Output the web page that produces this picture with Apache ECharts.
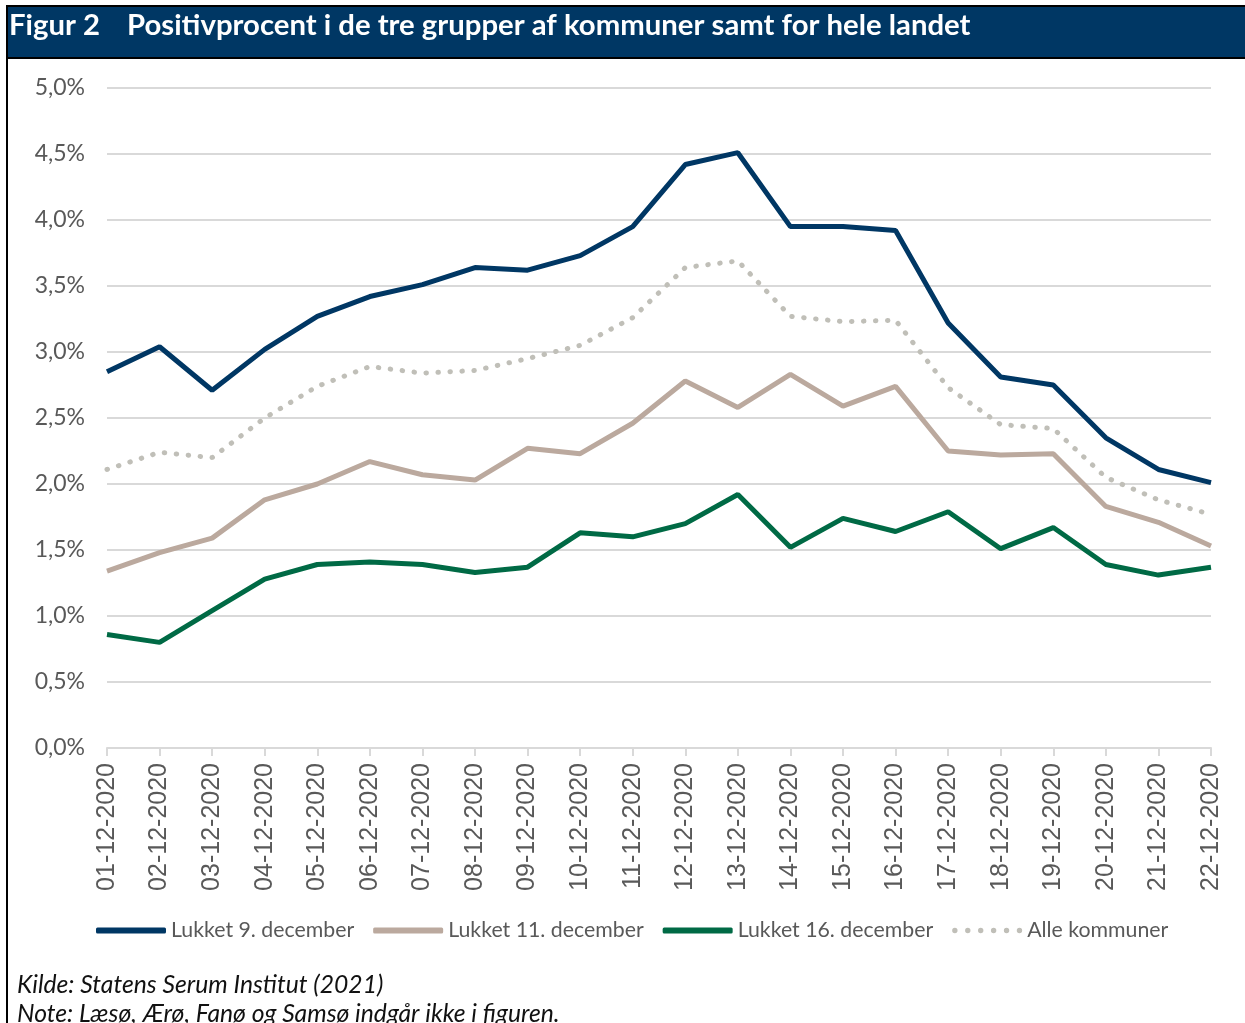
<!DOCTYPE html>
<html>
<head>
<meta charset="utf-8">
<script src="https://cdn.jsdelivr.net/npm/echarts@6/dist/echarts.min.js"></script>
<style>
  html, body { margin: 0; padding: 0; background: #fff; }
  #chart { width: 1245px; height: 1023px; }
</style>
</head>
<body>
<div id="chart"></div>
<script>
// datoer
const dates = [
  "01-12-2020", "02-12-2020", "03-12-2020", "04-12-2020", "05-12-2020", "06-12-2020",
  "07-12-2020", "08-12-2020", "09-12-2020", "10-12-2020", "11-12-2020", "12-12-2020",
  "13-12-2020", "14-12-2020", "15-12-2020", "16-12-2020", "17-12-2020", "18-12-2020",
  "19-12-2020", "20-12-2020", "21-12-2020", "22-12-2020",
];

// positivprocent (%)
const lukket9 = [2.85, 3.04, 2.71, 3.02, 3.27, 3.42, 3.51, 3.64, 3.62, 3.73, 3.95,
  4.42, 4.51, 3.95, 3.95, 3.92, 3.22, 2.81, 2.75, 2.35, 2.11, 2.01];
const lukket11 = [1.34, 1.48, 1.59, 1.88, 2.0, 2.17, 2.07, 2.03, 2.27, 2.23, 2.46,
  2.78, 2.58, 2.83, 2.59, 2.74, 2.25, 2.22, 2.23, 1.83, 1.71, 1.53];
const lukket16 = [0.86, 0.80, 1.04, 1.28, 1.39, 1.41, 1.39, 1.33, 1.37, 1.63, 1.60,
  1.70, 1.92, 1.52, 1.74, 1.64, 1.79, 1.51, 1.67, 1.39, 1.31, 1.37];
const alleKommuner = [2.11, 2.24, 2.20, 2.50, 2.74, 2.89, 2.84, 2.86, 2.95, 3.05, 3.26,
  3.64, 3.69, 3.27, 3.23, 3.24, 2.73, 2.45, 2.42, 2.05, 1.88, 1.77];

const chart = echarts.init(document.getElementById("chart"));

const fmt = (v) => v.toFixed(1).replace(".", ",") + "%";

// prikket legend-ikon (6 prikker)
const dotsIcon =
  "path://" +
  [2.5, 14.5, 26.5, 38.5, 50.5, 62.5]
    .map((c) => `M${c - 2.5},2.5 A2.5,2.5 0 1,1 ${c + 2.5},2.5 A2.5,2.5 0 1,1 ${c - 2.5},2.5 Z`)
    .join(" ");

const options = {
  backgroundColor: "#fff",
  animation: false,
  graphic: [
    // titelbjælke
    { type: "rect", shape: { x: 6, y: 5, width: 1245, height: 54 }, style: { fill: "#000" } },
    { type: "rect", shape: { x: 8, y: 7, width: 1245, height: 50 }, style: { fill: "#003764" } },
    { type: "rect", shape: { x: 6, y: 5, width: 2, height: 1020 }, style: { fill: "#000" } },
    {
      type: "text", left: 9, top: 11,
      style: { text: "Figur 2", fill: "#fff", font: "bold 29.3px Lato" },
    },
    {
      type: "text", left: 127, top: 11,
      style: { text: "Positivprocent i de tre grupper af kommuner samt for hele landet", fill: "#fff", font: "bold 29.3px Lato" },
    },
    {
      type: "text", left: 17, top: 973,
      style: { text: "Kilde: Statens Serum Institut (2021)", fill: "#111", font: "italic 24.7px Lato" },
    },
    {
      type: "text", left: 17, top: 1002,
      style: { text: "Note: Læsø, Ærø, Fanø og Samsø indgår ikke i figuren.", fill: "#111", font: "italic 24.7px Lato" },
    },
  ],
  grid: { left: 107, right: 34, top: 88, bottom: 275 },
  legend: {
    bottom: 77,
    left: 91,
    itemWidth: 70,
    itemHeight: 6,
    itemGap: 19,
    textStyle: { color: "#595959", fontFamily: "Lato", fontSize: 21.3 },
    data: [
      { name: "Lukket 9. december", icon: "roundRect" },
      { name: "Lukket 11. december", icon: "roundRect" },
      { name: "Lukket 16. december", icon: "roundRect" },
      { name: "Alle kommuner", icon: dotsIcon },
    ],
  },
  xAxis: {
    type: "category",
    data: dates,
    boundaryGap: false,
    axisLine: { lineStyle: { color: "#d9d9d9", width: 2 } },
    axisTick: { show: true, length: 8, lineStyle: { color: "#d9d9d9", width: 2 } },
    axisLabel: {
      rotate: 90,
      interval: 0,
      margin: 15,
      color: "#595959",
      fontFamily: "Liberation Sans",
      fontSize: 25,
    },
  },
  yAxis: {
    type: "value",
    min: 0,
    max: 5,
    interval: 0.5,
    axisLine: { show: false },
    axisTick: { show: false },
    splitLine: { lineStyle: { color: "#d9d9d9", width: 2 } },
    axisLabel: {
      formatter: fmt,
      margin: 22,
      color: "#595959",
      fontFamily: "Lato",
      fontSize: 23,
    },
  },
  series: [
    {
      name: "Alle kommuner",
      type: "line",
      data: alleKommuner,
      symbol: "none",
      lineStyle: { color: "#c0bfb8", width: 5, type: [0.5, 11.5], cap: "round" },
      itemStyle: { color: "#c0bfb8" },
    },
    {
      name: "Lukket 9. december",
      type: "line",
      data: lukket9,
      symbol: "none",
      lineStyle: { color: "#003764", width: 5 },
      itemStyle: { color: "#003764" },
    },
    {
      name: "Lukket 11. december",
      type: "line",
      data: lukket11,
      symbol: "none",
      lineStyle: { color: "#bba99e", width: 5 },
      itemStyle: { color: "#bba99e" },
    },
    {
      name: "Lukket 16. december",
      type: "line",
      data: lukket16,
      symbol: "none",
      lineStyle: { color: "#006a45", width: 5 },
      itemStyle: { color: "#006a45" },
    },
  ],
};

chart.setOption(options);
</script>
</body>
</html>
